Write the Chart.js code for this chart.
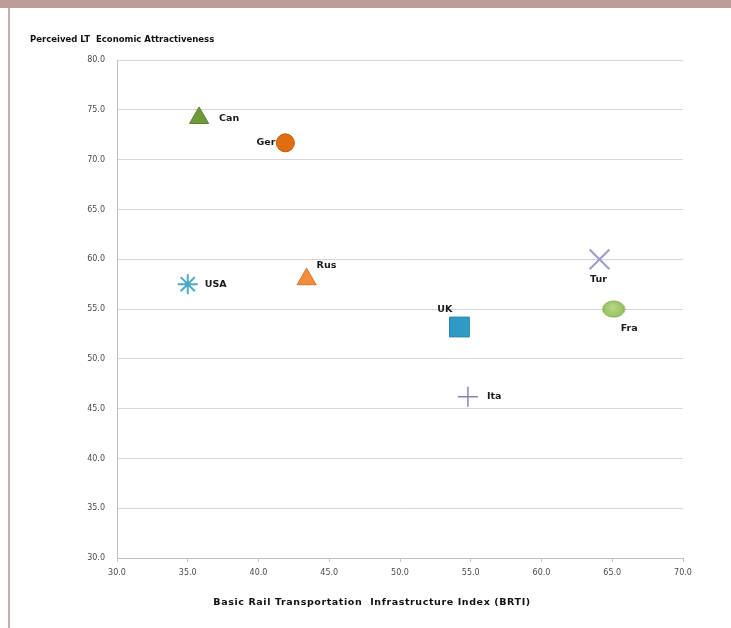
<!DOCTYPE html>
<html>
<head>
<meta charset="utf-8">
<script src="https://cdn.jsdelivr.net/npm/chart.js@4.4.1/dist/chart.umd.min.js"></script>
<style>
  html, body { margin: 0; padding: 0; background: #ffffff; }
  #wrap { position: relative; width: 731px; height: 628px; overflow: hidden; background: #ffffff; }
  #band { position: absolute; left: 0; top: 0; width: 731px; height: 8px; background: #bc9d99; }
  #rule { position: absolute; left: 8px; top: 8px; width: 2px; height: 620px; background: #c9afab; }
  #c { position: absolute; left: 0; top: 0; }
</style>
</head>
<body>
<div id="wrap">
  <div id="band"></div>
  <div id="rule"></div>
  <canvas id="c" width="731" height="628"></canvas>
</div>
<script>
// Country scores: rail infrastructure index vs. long-term economic attractiveness
const countries = ['Can', 'Ger', 'Rus', 'USA', 'UK', 'Tur', 'Fra', 'Ita'];
const brti = [35.8, 41.9, 43.4, 35.0, 54.2, 64.1, 65.1, 54.8];
const attractiveness = [74.2, 71.7, 58.0, 57.5, 53.2, 60.0, 55.0, 46.2];

// Axis ranges and titles
const xTickValues = [30, 35, 40, 45, 50, 55, 60, 65, 70];
const yTickValues = [30, 35, 40, 45, 50, 55, 60, 65, 70, 75, 80];
const yTitle = 'Perceived LT  Economic Attractiveness';
const xTitle = 'Basic Rail Transportation  Infrastructure Index (BRTI)';

// Marker look per country
const markerStyle = [
  { shape: 'triangle', radius: 11,  fill: '#6f9a3c', stroke: '#5a7f2e', width: 1 },
  { shape: 'circle',   radius: 9,   fill: '#e06d12', stroke: '#c05808', width: 1 },
  { shape: 'triangle', radius: 11,  fill: '#f38c3c', stroke: '#d8742a', width: 1 },
  { shape: 'star',     radius: 10,  fill: '#4bacc6', stroke: '#4ba9c4', width: 2 },
  { shape: 'rect',     radius: 14,  fill: '#2f9bc5', stroke: '#2a86aa', width: 1 },
  { shape: 'crossRot', radius: 14,  fill: '#9e9ed2', stroke: '#9c9cd0', width: 2 },
  { shape: 'ellipse',  radius: 11,  fill: '#92c05a', stroke: '#7ea94a', width: 1 },
  { shape: 'cross',    radius: 10,  fill: '#8080b4', stroke: '#8484b6', width: 1.5 }
];

// Where each country name sits relative to its marker
const labelPlacement = [
  { dx: 20,  dy: 1,   align: 'left' },
  { dx: -10, dy: 0,   align: 'right' },
  { dx: 10,  dy: -14, align: 'left' },
  { dx: 17,  dy: 0,   align: 'left' },
  { dx: -7,  dy: -17, align: 'right' },
  { dx: -1,  dy: 20,  align: 'center' },
  { dx: 7,   dy: 19,  align: 'left' },
  { dx: 19,  dy: 0,   align: 'left' }
];

function ellipseMarker(w, h, fill, stroke) {
  const cv = document.createElement('canvas');
  cv.width = w + 2; cv.height = h + 2;
  const g = cv.getContext('2d');
  const grad = g.createRadialGradient(cv.width * 0.45, cv.height * 0.4, 1, cv.width / 2, cv.height / 2, w / 2);
  grad.addColorStop(0, '#b5d684');
  grad.addColorStop(1, fill);
  g.fillStyle = grad;
  g.strokeStyle = stroke;
  g.lineWidth = 1;
  g.beginPath();
  g.ellipse(cv.width / 2, cv.height / 2, w / 2, h / 2, 0, 0, Math.PI * 2);
  g.fill();
  g.stroke();
  return cv;
}

const datasets = countries.map((name, i) => {
  const m = markerStyle[i];
  const style = m.shape === 'ellipse' ? ellipseMarker(22, 16, m.fill, m.stroke) : m.shape;
  return {
    label: name,
    data: [{ x: brti[i], y: attractiveness[i] }],
    pointStyle: style,
    pointRadius: m.radius,
    pointHoverRadius: m.radius,
    backgroundColor: m.fill,
    borderColor: m.stroke,
    borderWidth: m.width,
    pointBorderWidth: m.width
  };
});

const FONT = 'DejaVu Sans';

const pointLabels = {
  id: 'pointLabels',
  afterDatasetsDraw(chart) {
    const ctx = chart.ctx;
    ctx.save();
    ctx.font = 'bold 9.5px "' + FONT + '"';
    ctx.fillStyle = '#1a1a1a';
    ctx.textBaseline = 'middle';
    chart.data.datasets.forEach((ds, i) => {
      const el = chart.getDatasetMeta(i).data[0];
      const p = labelPlacement[i];
      ctx.textAlign = p.align;
      ctx.fillText(ds.label, el.x + p.dx, el.y + p.dy);
    });
    ctx.restore();
  }
};

const bottomTitle = {
  id: 'bottomTitle',
  afterDraw(chart) {
    const ctx = chart.ctx;
    ctx.save();
    ctx.font = 'bold 9.5px "' + FONT + '"';
    ctx.letterSpacing = '0.6px';
    ctx.fillStyle = '#111111';
    ctx.textAlign = 'center';
    ctx.textBaseline = 'middle';
    ctx.fillText(xTitle, 372, 603);
    ctx.restore();
  }
};

new Chart(document.getElementById('c'), {
  type: 'scatter',
  data: { datasets },
  plugins: [pointLabels, bottomTitle],
  options: {
    responsive: false,
    devicePixelRatio: 1,
    animation: false,
    events: [],
    layout: { padding: { left: 30, right: 48, top: 2, bottom: 0 } },
    plugins: {
      legend: { display: false },
      tooltip: { enabled: false },
      title: {
        display: true,
        text: yTitle,
        align: 'start',
        color: '#111111',
        font: { family: FONT, size: 8.5, weight: 'bold' },
        padding: { top: 33, bottom: 15 }
      }
    },
    scales: {
      x: {
        type: 'linear',
        min: xTickValues[0],
        max: xTickValues[xTickValues.length - 1],
        afterBuildTicks: (s) => { s.ticks = xTickValues.map(v => ({ value: v })); },
        afterFit: (s) => { s.height = 70; },
        grid: { drawOnChartArea: false, drawTicks: true, tickLength: 4, color: '#c8c8c8' },
        border: { display: true, color: '#c0c0c0', width: 1 },
        ticks: {
          padding: 6,
          color: '#4a4a4a',
          font: { family: FONT, size: 8 },
          maxRotation: 0,
          callback: (v) => Number(v).toFixed(1)
        }
      },
      y: {
        type: 'linear',
        min: yTickValues[0],
        max: yTickValues[yTickValues.length - 1],
        afterBuildTicks: (s) => { s.ticks = yTickValues.map(v => ({ value: v })); },
        afterFit: (s) => { s.width = 87; },
        grid: { drawTicks: false, color: '#d6d6d6', lineWidth: 1 },
        border: { display: true, color: '#c0c0c0', width: 1 },
        ticks: {
          padding: 12,
          color: '#4a4a4a',
          font: { family: FONT, size: 8 },
          callback: (v) => Number(v).toFixed(1)
        }
      }
    }
  }
});
</script>
</body>
</html>
